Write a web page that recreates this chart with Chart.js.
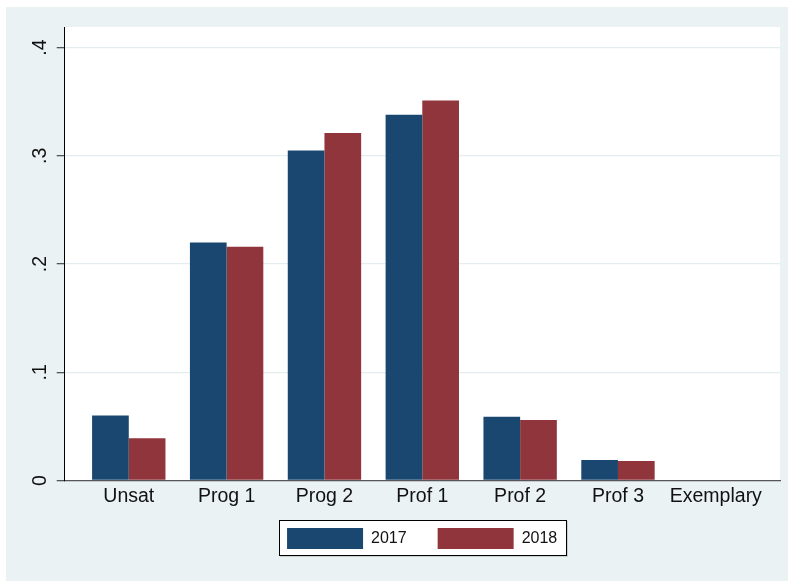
<!DOCTYPE html>
<html>
<head>
<meta charset="utf-8">
<script src="https://cdn.jsdelivr.net/npm/chart.js@4.4.1/dist/chart.umd.min.js"></script>
<style>
  html, body { margin: 0; padding: 0; background: #fff; }
  #wrap { position: absolute; left: 6px; top: 7px; width: 782px; height: 574px; background: #eaf2f3; }
</style>
</head>
<body>
<div id="wrap"><canvas id="chart" width="782" height="574"></canvas></div>
<script>
// categories and shares
const categories = ['Unsat', 'Prog 1', 'Prog 2', 'Prof 1', 'Prof 2', 'Prof 3', 'Exemplary'];
const share2017 = [0.060, 0.220, 0.305, 0.338, 0.059, 0.019, 0];
const share2018 = [0.039, 0.216, 0.321, 0.351, 0.056, 0.018, 0];
const yTicks = [0, 0.1, 0.2, 0.3, 0.4];

const fontFamily = "'Liberation Sans', Arial, sans-serif";

function points(values) {
  return values.map((v, i) => ({ x: i, y: v }));
}

// white plot region and the framed legend box
const backdrop = {
  id: 'backdrop',
  afterLayout(chart) {
    // x labels hang below the thin axis box, so widen its clip area
    const x = chart.scales.x;
    x.bottom = x.top + 40;
  },
  beforeDraw(chart) {
    const { ctx, chartArea: a } = chart;
    ctx.save();
    ctx.fillStyle = '#fff';
    ctx.fillRect(a.left, a.top, a.right - a.left, a.bottom - a.top);
    const boxes = chart.legend ? chart.legend.legendHitBoxes : [];
    if (boxes.length) {
      const first = boxes[0];
      const last = boxes[boxes.length - 1];
      const l = Math.round(first.left - 8);
      const t = Math.round(first.top - 8);
      const r = Math.round(last.left + last.width + 10);
      const b = Math.round(first.top + first.height + 7);
      ctx.fillStyle = '#c9d0d2';
      ctx.fillRect(l + 1, t + 1, r - l, b - t);
      ctx.fillStyle = '#fff';
      ctx.fillRect(l, t, r - l, b - t);
      ctx.strokeStyle = '#000';
      ctx.lineWidth = 1;
      ctx.strokeRect(l + 0.5, t + 0.5, r - l - 1, b - t - 1);
    }
    ctx.restore();
  }
};

const ctx = document.getElementById('chart').getContext('2d');
const chart = new Chart(ctx, {
  type: 'bar',
  data: {
    datasets: [
      { label: '2017', data: points(share2017), backgroundColor: '#1a476f' },
      { label: '2018', data: points(share2018), backgroundColor: '#90353b' }
    ]
  },
  options: {
    responsive: false,
    animation: false,
    devicePixelRatio: 1,
    layout: { padding: { left: 0, right: 8, top: 20, bottom: 22 } },
    datasets: {
      bar: { categoryPercentage: 0.75, barPercentage: 1, borderWidth: 0 }
    },
    scales: {
      x: {
        type: 'linear',
        offset: false,
        min: -0.659,
        max: 6.656,
        afterBuildTicks: s => { s.ticks = categories.map((c, i) => ({ value: i })); },
        afterFit: s => { s.height = 16.5; s.paddingLeft = 0; s.paddingRight = 0; },
        ticks: {
          callback: v => categories[v],
          autoSkip: false,
          maxRotation: 0,
          padding: 4,
          color: '#111',
          font: { family: fontFamily, size: 19.5 }
        },
        grid: { display: false, drawTicks: false },
        border: { display: true, color: '#555', width: 1.3 }
      },
      y: {
        min: 0,
        max: 0.419,
        afterBuildTicks: s => { s.ticks = yTicks.map(v => ({ value: v })); },
        afterFit: s => { s.width = 58.3; s.paddingTop = 0; s.paddingBottom = 0; },
        ticks: {
          callback: v => (v === 0 ? '0' : '.' + Math.round(v * 10)),
          minRotation: 90,
          maxRotation: 90,
          crossAlign: 'center',
          padding: 8,
          color: '#111',
          font: { family: fontFamily, size: 19.5 }
        },
        grid: {
          color: c => (c.tick && c.tick.value === 0 ? 'rgba(0,0,0,0)' : '#e4edef'),
          tickColor: '#555',
          tickLength: 7.6,
          lineWidth: 1.3
        },
        border: { color: '#000', width: 1 }
      }
    },
    plugins: {
      tooltip: { enabled: false },
      legend: {
        position: 'bottom',
        fullSize: false,
        labels: {
          boxWidth: 76,
          boxHeight: 21,
          padding: 31,
          color: '#111',
          font: { family: fontFamily, size: 16 }
        }
      }
    }
  },
  plugins: [backdrop]
});
</script>
</body>
</html>
